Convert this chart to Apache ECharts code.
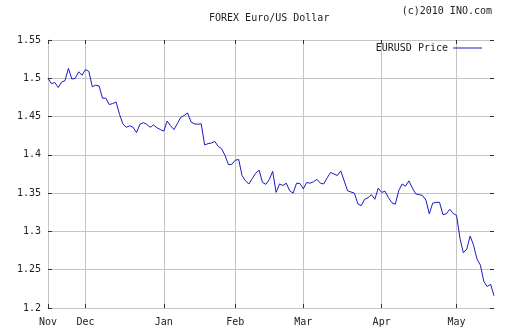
<!DOCTYPE html>
<html>
<head>
<meta charset="utf-8">
<script src="https://cdn.jsdelivr.net/npm/echarts@6/dist/echarts.min.js"></script>
<style>
  html, body { margin: 0; padding: 0; background: #fff; }
  #chart { width: 512px; height: 335px; }
</style>
</head>
<body>
<div id="chart"></div>
<script>
// Trading-day range of the series (weekdays only)
const firstDay = '2009-11-16';
const lastDay = '2010-05-18';
const monthNames = ['Jan', 'Feb', 'Mar', 'Apr', 'May', 'Jun', 'Jul', 'Aug', 'Sep', 'Oct', 'Nov', 'Dec'];

// Daily EUR/USD close, one value per trading day
const eurusd = [
  1.500, 1.493, 1.4945, 1.488, 1.495, 1.497, 1.513, 1.499, 1.500, 1.5085,
  1.504, 1.5115, 1.509, 1.489, 1.491, 1.490, 1.474, 1.474, 1.4657, 1.467,
  1.469, 1.453, 1.4405, 1.436, 1.438, 1.436, 1.429, 1.440, 1.442, 1.440,
  1.436, 1.439, 1.4355, 1.433, 1.431, 1.4442, 1.438, 1.433, 1.441, 1.449,
  1.4515, 1.4547, 1.443, 1.4405, 1.440, 1.4405, 1.413, 1.4146, 1.4155, 1.4175,
  1.411, 1.408, 1.399, 1.3874, 1.3876, 1.393, 1.394, 1.373, 1.366, 1.362,
  1.369, 1.376, 1.380, 1.364, 1.3615, 1.368, 1.3785, 1.351, 1.362, 1.360,
  1.363, 1.353, 1.350, 1.363, 1.3625, 1.3556, 1.364, 1.363, 1.365, 1.368,
  1.363, 1.362, 1.370, 1.377, 1.375, 1.373, 1.379, 1.366, 1.353, 1.3515,
  1.350, 1.336, 1.3337, 1.342, 1.344, 1.348, 1.342, 1.3565, 1.351, 1.3525,
  1.344, 1.3375, 1.3355, 1.353, 1.362, 1.359, 1.366, 1.357, 1.349, 1.348,
  1.347, 1.341, 1.323, 1.337, 1.338, 1.338, 1.322, 1.323, 1.329, 1.3235,
  1.321, 1.291, 1.272, 1.277, 1.294, 1.282, 1.264, 1.256, 1.235, 1.228,
  1.231, 1.216
];

// Price axis
const yMin = 1.2;
const yMax = 1.55;
const yStep = 0.05;

function tradingDays(from, to) {
  const out = [];
  const d = new Date(from + 'T00:00:00Z');
  const end = new Date(to + 'T00:00:00Z');
  while (d <= end) {
    const wd = d.getUTCDay();
    if (wd !== 0 && wd !== 6) out.push(d.toISOString().slice(0, 10));
    d.setUTCDate(d.getUTCDate() + 1);
  }
  return out;
}

const days = tradingDays(firstDay, lastDay);
const isMonthStart = (i) => i === 0 || days[i].slice(5, 7) !== days[i - 1].slice(5, 7);
const monthLabel = (v) => monthNames[parseInt(v.slice(5, 7), 10) - 1];

const FONT = 'DejaVu Sans Mono';
const TEXT = '#222';
const GRID = '#c4c4c4';
const TICK = '#333';
const LINE = '#1a1ac4';

const chart = echarts.init(document.getElementById('chart'), null, { renderer: 'canvas' });

chart.setOption({
  animation: false,
  backgroundColor: '#fff',
  title: [
    {
      text: 'FOREX Euro/US Dollar',
      left: 204, top: 8,
      textStyle: { fontFamily: FONT, fontSize: 10, fontWeight: 'normal', color: TEXT }
    },
    {
      text: '(c)2010 INO.com',
      right: 15, top: 1,
      textStyle: { fontFamily: FONT, fontSize: 10, fontWeight: 'normal', color: TEXT }
    }
  ],
  legend: {
    right: 25, top: 38,
    align: 'right',
    icon: 'rect',
    itemWidth: 29, itemHeight: 1,
    textStyle: { fontFamily: FONT, fontSize: 10, color: TEXT },
    data: ['EURUSD Price']
  },
  grid: { left: 48, right: 18, top: 40, bottom: 27, containLabel: false },
  xAxis: [
    {
      type: 'category',
      position: 'bottom',
      data: days,
      boundaryGap: false,
      axisLine: { show: true, lineStyle: { color: GRID, width: 1 } },
      axisTick: { show: true, inside: true, length: 4, interval: isMonthStart, lineStyle: { color: TICK } },
      splitLine: { show: true, interval: isMonthStart, lineStyle: { color: GRID, width: 1 } },
      axisLabel: {
        interval: isMonthStart, formatter: monthLabel, margin: 9,
        fontFamily: FONT, fontSize: 10, color: TEXT
      }
    },
    {
      type: 'category',
      position: 'top',
      data: days,
      boundaryGap: false,
      axisLine: { show: false },
      axisTick: { show: true, inside: true, length: 4, interval: isMonthStart, lineStyle: { color: TICK } },
      axisLabel: { show: false },
      splitLine: { show: false }
    }
  ],
  yAxis: [
    {
      type: 'value',
      position: 'left',
      min: yMin, max: yMax, interval: yStep,
      axisLine: { show: true, lineStyle: { color: GRID, width: 1 } },
      axisTick: { show: true, inside: true, length: 4, lineStyle: { color: TICK } },
      splitLine: { show: true, lineStyle: { color: GRID, width: 1 } },
      axisLabel: { margin: 7, fontFamily: FONT, fontSize: 10, color: TEXT }
    },
    {
      type: 'value',
      position: 'right',
      min: yMin, max: yMax, interval: yStep,
      axisLine: { show: false },
      axisTick: { show: true, inside: true, length: 4, lineStyle: { color: TICK } },
      splitLine: { show: false },
      axisLabel: { show: false }
    }
  ],
  series: [
    {
      name: 'EURUSD Price',
      type: 'line',
      xAxisIndex: 0,
      yAxisIndex: 0,
      data: eurusd,
      symbol: 'none',
      smooth: false,
      lineStyle: { color: LINE, width: 1 },
      itemStyle: { color: LINE }
    }
  ]
});
</script>
</body>
</html>
